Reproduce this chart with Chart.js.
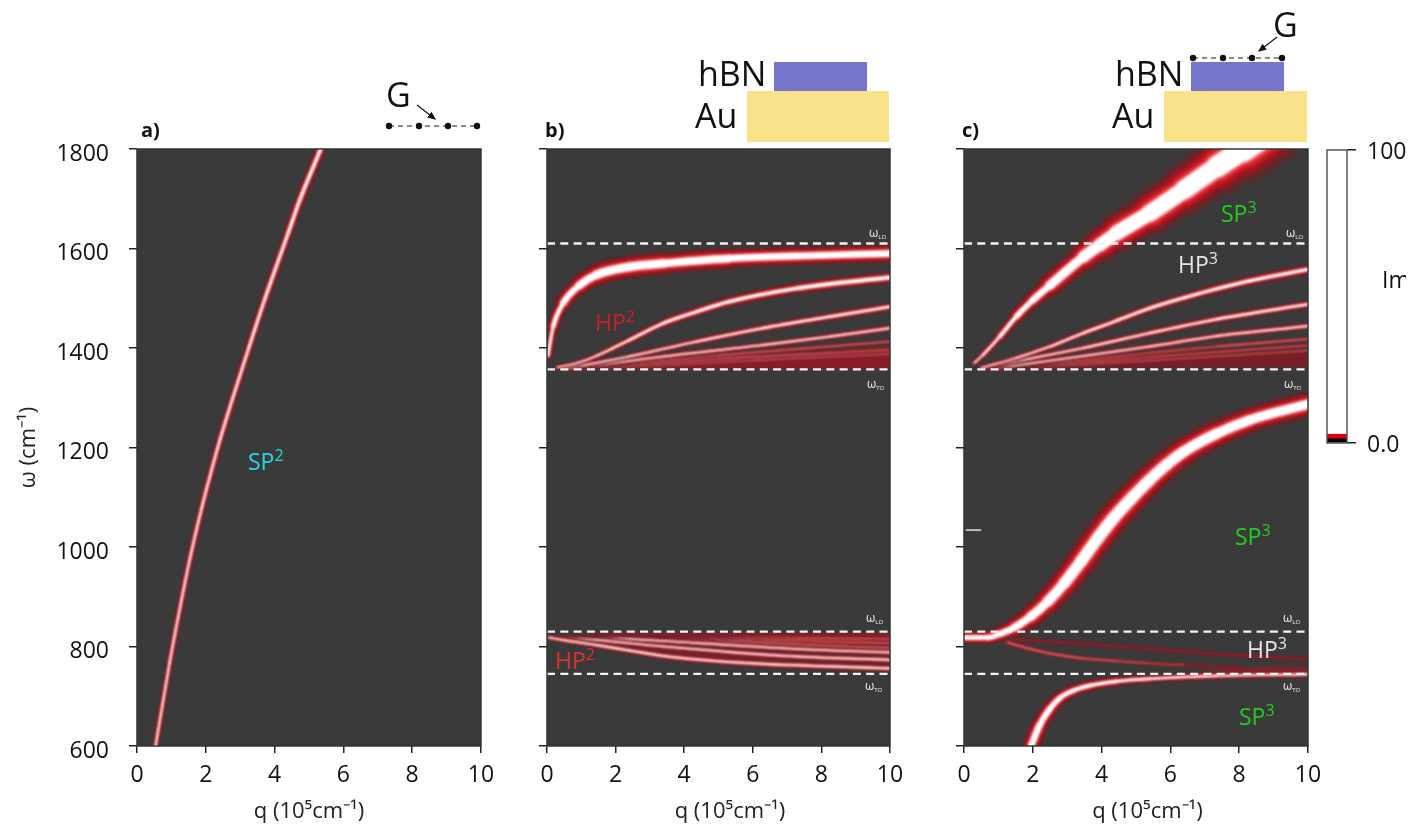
<!DOCTYPE html>
<html>
<head>
<meta charset="utf-8">
<title>Plasmon dispersion</title>
<script src="https://cdn.jsdelivr.net/npm/chart.js@4/dist/chart.umd.js"></script>
<style>
  html, body { margin: 0; padding: 0; background: #fff; }
  body { width: 1424px; height: 827px; position: relative; overflow: hidden; font-family: "Open Sans", sans-serif; }
  canvas { position: absolute; top: 129px; }
  #art { position: absolute; left: 0; top: 0; }
  text { font-family: "Open Sans", sans-serif; }
  #imLabel { position: absolute; left: 1382px; top: 263px; width: 24px; height: 34px; overflow: hidden; font-size: 23px; color: #111; white-space: nowrap; }
</style>
</head>
<body>
<canvas id="panelA" width="511" height="698" style="left:0"></canvas>
<canvas id="panelB" width="415" height="698" style="left:505px"></canvas>
<canvas id="panelC" width="413" height="698" style="left:925px"></canvas>
<canvas id="scaleBar" width="134" height="340" style="left:1290px"></canvas>

<svg id="art" width="1424" height="827" xmlns="http://www.w3.org/2000/svg">
  <defs>
    <marker id="head" markerWidth="7" markerHeight="7" refX="6" refY="3" orient="auto">
      <path d="M0,0 L7,3 L0,6 Z" fill="#111"/>
    </marker>
  </defs>
  <!-- stack drawings -->
  <rect x="774" y="62" width="93" height="29" fill="#7575cb"/>
  <rect x="747" y="91" width="142" height="51" fill="#fae28b"/>
  <rect x="1191" y="62" width="93" height="29" fill="#7575cb"/>
  <rect x="1164" y="91" width="143" height="51" fill="#fae28b"/>
  <text x="698" y="86" font-size="34" fill="#111">hBN</text>
  <text x="695" y="128" font-size="34" fill="#111">Au</text>
  <text x="1115" y="86" font-size="34" fill="#111">hBN</text>
  <text x="1112" y="128" font-size="34" fill="#111">Au</text>
  <text x="386" y="107" font-size="34" fill="#111">G</text>
  <text x="1273" y="37" font-size="34" fill="#111">G</text>
  <line x1="389" y1="126" x2="477" y2="126" stroke="#666" stroke-width="1.3" stroke-dasharray="5 4"/>
  <line x1="1193" y1="58" x2="1282" y2="58" stroke="#666" stroke-width="1.3" stroke-dasharray="5 4"/>
  <g fill="#111">
    <circle cx="389" cy="126" r="3.2"/><circle cx="419" cy="126" r="3.2"/><circle cx="448" cy="126" r="3.2"/><circle cx="477" cy="126" r="3.2"/>
    <circle cx="1193" cy="58" r="3.2"/><circle cx="1223" cy="58" r="3.2"/><circle cx="1252" cy="58" r="3.2"/><circle cx="1282" cy="58" r="3.2"/>
  </g>
  <line x1="417" y1="105" x2="435" y2="119" stroke="#111" stroke-width="1.2" marker-end="url(#head)"/>
  <line x1="1277" y1="37" x2="1259" y2="51" stroke="#111" stroke-width="1.2" marker-end="url(#head)"/>

  <!-- panel letters -->
  <text x="141" y="137" font-size="20" font-weight="700" fill="#111">a)</text>
  <text x="545" y="137" font-size="20" font-weight="700" fill="#111">b)</text>
  <text x="962" y="137" font-size="20" font-weight="700" fill="#111">c)</text>

  <!-- branch names -->
  <text x="248" y="470" font-size="23" fill="#25d9e0">SP<tspan dy="-9" font-size="16">2</tspan></text>
  <text x="595" y="331" font-size="23" fill="#c9202c">HP<tspan dy="-9" font-size="16">2</tspan></text>
  <text x="555" y="669" font-size="23" fill="#e0302f">HP<tspan dy="-9" font-size="16">2</tspan></text>
  <text x="1221" y="222" font-size="23" fill="#22cc22">SP<tspan dy="-9" font-size="16">3</tspan></text>
  <text x="1178" y="273" font-size="23" fill="#e6e6e6">HP<tspan dy="-9" font-size="16">3</tspan></text>
  <text x="1235" y="545" font-size="23" fill="#22cc22">SP<tspan dy="-9" font-size="16">3</tspan></text>
  <text x="1247" y="658" font-size="23" fill="#e6e6e6">HP<tspan dy="-9" font-size="16">3</tspan></text>
  <text x="1239" y="725" font-size="23" fill="#22cc22">SP<tspan dy="-9" font-size="16">3</tspan></text>

  <!-- phonon labels -->
  <g fill="#f2f2f2" font-size="12">
    <text x="869" y="237">ω<tspan dy="2" font-size="6">LO</tspan></text>
    <text x="867" y="388">ω<tspan dy="2" font-size="6">TO</tspan></text>
    <text x="866" y="622">ω<tspan dy="2" font-size="6">LO</tspan></text>
    <text x="865" y="690">ω<tspan dy="2" font-size="6">TO</tspan></text>
    <text x="1286" y="237">ω<tspan dy="2" font-size="6">LO</tspan></text>
    <text x="1284" y="388">ω<tspan dy="2" font-size="6">TO</tspan></text>
    <text x="1283" y="622">ω<tspan dy="2" font-size="6">LO</tspan></text>
    <text x="1283" y="690">ω<tspan dy="2" font-size="6">TO</tspan></text>
  </g>
</svg>
<div id="imLabel">Im</div>

<script>
/******** values */
const xTicksStep = 2;
const yTicksStep = 200;
const barTicks = [0, 100];
const barLevels = [1.4, 1.6, 97];

// phonon lines (omega LO / TO of both bands)
const phononLines = [1610, 1357, 830, 745];

// panel a
const a1q = [0.54, 0.95, 1.25, 1.54, 1.88, 2.17, 2.41, 3.25, 3.71, 4.39, 4.73, 5.31, 5.45];
const a1w = [600, 768, 878, 977, 1078, 1155, 1215, 1400, 1497, 1630, 1697, 1795, 1820];

// panel b, upper band
const b1q = [0.03, 0.18, 0.47, 0.95, 1.44, 2.4, 3.4, 5.3, 7.3, 10];
const b1w = [1385, 1443, 1490, 1526, 1547, 1563, 1570, 1580, 1585, 1590];
const b2q = [0.3, 0.9, 1.44, 1.9, 2.4, 3.4, 4.36, 5.3, 7.3, 10];
const b2w = [1361, 1370, 1384, 1399, 1416, 1450, 1473, 1493, 1520, 1542];
const b3q = [0.5, 2.4, 4.36, 6.3, 8.25, 10];
const b3w = [1358, 1383, 1413, 1440, 1463, 1483];
const b4q = [0.7, 3.4, 6.3, 8.25, 10];
const b4w = [1358, 1383, 1406, 1423, 1440];
const b5q = [1, 5, 10];
const b5w = [1360, 1385, 1413];
const b6q = [1.5, 5, 10];
const b6w = [1360, 1378, 1396];
const b7q = [2, 6, 10];
const b7w = [1360, 1375, 1388];
const bHazeQ = [0.5, 5, 10];
const bHazeTop = [1358, 1382, 1404];
const bHazeLow = [1357, 1358, 1358];

// panel b, lower band
const b8q = [0.05, 0.47, 1.44, 2.4, 3.4, 4.36, 6.3, 8.25, 10];
const b8w = [818, 813, 803, 792, 781, 774, 765, 760, 756];
const b9q = [0.3, 1.44, 3.4, 5.3, 7.3, 10];
const b9w = [818, 813, 800, 789, 780, 773];
const b10q = [0.5, 2.4, 4.36, 7.3, 10];
const b10w = [818, 815, 807, 795, 788];
const b11q = [1, 3, 5, 8, 10];
const b11w = [818, 816, 811, 802, 797];
const b12q = [2, 5, 8, 10];
const b12w = [818, 815, 810, 807];
const b13q = [3, 7, 10];
const b13w = [818, 817, 815];
const bBandQ = [0.05, 1.44, 3.4, 6.3, 10];
const bBandTop = [820, 826, 827, 827, 827];
const bBandLow = [818, 802, 779, 762, 752];

// panel c, upper band
const c1q = [0.3, 0.55, 1.04, 1.52, 2, 2.5, 3.47, 3.95, 4.44, 5.4, 6.4, 7.35, 8.1, 9];
const c1w = [1370, 1386, 1423, 1463, 1496, 1526, 1583, 1607, 1631, 1671, 1718, 1764, 1798, 1840];
const c2q = [0.5, 1.52, 2.5, 3.47, 4.44, 5.4, 6.4, 7.35, 8.3, 10];
const c2w = [1360, 1380, 1403, 1430, 1455, 1480, 1501, 1519, 1535, 1558];
const c3q = [0.7, 1.52, 3.47, 5.4, 7.35, 10];
const c3w = [1360, 1373, 1400, 1430, 1458, 1488];
const c4q = [1, 3.47, 5.4, 7.35, 10];
const c4w = [1360, 1384, 1403, 1424, 1444];
const c5q = [1.3, 5.4, 7.35, 10];
const c5w = [1360, 1390, 1403, 1418];
const c6q = [1.6, 5.4, 10];
const c6w = [1360, 1382, 1405];
const c7q = [2, 10];
const c7w = [1360, 1395];
const cHazeQ = [1, 5, 10];
const cHazeTop = [1360, 1378, 1396];
const cHazeLow = [1358, 1360, 1362];

// panel c, lower band
const c8q = [0.03, 0.68, 1.07, 1.46, 1.94, 2.43, 2.91, 3.4, 3.88, 4.37, 4.9, 5.4, 5.9, 6.4, 7.35, 8.3, 10];
const c8w = [818, 818, 826, 838, 860, 890, 927, 971, 1017, 1060, 1100, 1135, 1166, 1192, 1228, 1255, 1287];
const c9q = [1.95, 2.2, 2.5, 2.8, 3.2, 3.7, 4.44, 5.4, 7.35, 10];
const c9w = [600, 642, 675, 697, 712, 722, 730, 735, 741, 744];
const c10q = [0.5, 1.07, 1.52, 1.94, 2.5, 3.47, 4.44, 5.4, 6.4];
const c10w = [818, 812, 803, 795, 786, 776, 771, 766, 763];
const c10tailQ = [5.2, 6.4, 7.15, 8];
const c10tailW = [767, 763, 761, 759];
const c11q = [0.5, 2.5, 4.44, 6.4, 7.8, 10];
const c11w = [818, 810, 800, 790, 783, 774];
const cBandQ = [6.5, 8, 10];
const cBandTop = [748, 757, 760];
const cBandLow = [745, 745, 745];
const stubQ = [0.05, 0.5];
const stubW = [1034, 1034];

/******** look of the curves */
const glow = [
  { k: 3.1, a: 5.5, color: "#4a3233" },
  { k: 2.7, a: 4.4, color: "#62262a" },
  { k: 2.35, a: 3.4, color: "#861b22" },
  { k: 2, a: 2.8, color: "#ac151e" },
  { k: 1.7, a: 2.2, color: "#cf1a24" },
  { k: 1.4, a: 1.6, color: "#e6404a" },
  { k: 1.15, a: 1.2, color: "#fab0b2" },
  { k: 1, a: 1, color: "#ffffff" },
];
const dimGlow = [
  { k: 2.4, a: 2.6, color: "#5c2629" },
  { k: 1.8, a: 1.6, color: "#861a22" },
  { k: 1.4, a: 1, color: "#b31c27" },
  { k: 1, a: 0.5, color: "#e8747a" },
];
const faintGlow = [
  { k: 2.4, a: 3, color: "#512a2c" },
  { k: 1.6, a: 1.6, color: "#701e24" },
  { k: 1, a: 0.8, color: "#96222b" },
];

function pts(qs, ws) {
  return qs.map((q, i) => ({ x: q, y: ws[i] }));
}

// one curve becomes a stack of lines, wide dark ones under narrow bright ones
function curve(out, qs, ws, core, layers) {
  layers.forEach((l) => {
    const w = (i) => core[Math.min(i, core.length - 1)] * l.k + l.a;
    out.push({
      data: pts(qs, ws),
      borderColor: l.color,
      borderWidth: w(0),
      borderCapStyle: "round",
      cubicInterpolationMode: "monotone",
      pointRadius: 0,
      segment: { borderWidth: (ctx) => (w(ctx.p0DataIndex) + w(ctx.p1DataIndex)) / 2 },
    });
  });
}

// the list is reversed later on, so the top edge ends up right before the low edge
function haze(out, qs, low, top, color) {
  out.push({ data: pts(qs, low), borderWidth: 0, pointRadius: 0, borderColor: "transparent", cubicInterpolationMode: "monotone" });
  out.push({ data: pts(qs, top), borderWidth: 0, pointRadius: 0, borderColor: "transparent", cubicInterpolationMode: "monotone", fill: "+1", backgroundColor: color });
}

function dashed(out, value, end) {
  out.push({
    data: [{ x: 0, y: value }, { x: end, y: value }],
    borderColor: "#f4f4f4",
    borderWidth: 2.4,
    borderDash: [8, 5.3],
    pointRadius: 0,
    crisp: true,
  });
}

const aSets = [];
curve(aSets, a1q, a1w, [0.7, 0.8, 0.8, 0.9, 1, 1.1, 1.1, 1.3, 1.5, 1.7, 1.9, 2.1, 2.1], glow);

const bSets = [];
haze(bSets, bHazeQ, bHazeLow, bHazeTop, "#8a1c26");
haze(bSets, bBandQ, bBandLow, bBandTop, "#8a1c26");
curve(bSets, b7q, b7w, [0.3, 0.4, 0.5], dimGlow);
curve(bSets, b6q, b6w, [0.3, 0.5, 0.7], dimGlow);
curve(bSets, b5q, b5w, [0.3, 0.6, 0.9], dimGlow);
curve(bSets, b4q, b4w, [0.1, 0.3, 0.5, 0.6, 0.7], glow);
curve(bSets, b3q, b3w, [0.1, 0.3, 0.7, 1, 1.2, 1.4], glow);
curve(bSets, b2q, b2w, [0.1, 0.3, 0.5, 0.8, 1, 1.5, 1.8, 2, 2.3, 2.6], glow);
curve(bSets, b1q, b1w, [1, 2, 3.6, 5.4, 6.4, 7, 6.5, 5.5, 5, 5], glow);
curve(bSets, b13q, b13w, [0.4, 0.6, 0.7], dimGlow);
curve(bSets, b12q, b12w, [0.4, 0.6, 0.7, 0.8], dimGlow);
curve(bSets, b11q, b11w, [0.4, 0.6, 0.8, 0.9, 1], dimGlow);
curve(bSets, b10q, b10w, [0.1, 0.2, 0.3, 0.4, 0.5], glow);
curve(bSets, b9q, b9w, [0.1, 0.2, 0.4, 0.5, 0.6, 0.7], glow);
curve(bSets, b8q, b8w, [0.3, 0.4, 0.7, 0.8, 0.8, 0.8, 0.8, 0.8, 0.8], glow);
phononLines.forEach((v) => dashed(bSets, v, 9.95));

const cSets = [];
haze(cSets, cHazeQ, cHazeLow, cHazeTop, "#7a1e28");
haze(cSets, cBandQ, cBandLow, cBandTop, "#8a2029");
curve(cSets, c7q, c7w, [0.3, 0.5], dimGlow);
curve(cSets, c6q, c6w, [0.3, 0.5, 0.7], dimGlow);
curve(cSets, c5q, c5w, [0.3, 0.6, 0.7, 0.9], dimGlow);
curve(cSets, c4q, c4w, [0.1, 0.3, 0.5, 0.6, 0.7], glow);
curve(cSets, c3q, c3w, [0.1, 0.3, 0.6, 0.9, 1.1, 1.3], glow);
curve(cSets, c2q, c2w, [0.1, 0.3, 0.7, 1, 1.3, 1.5, 1.6, 1.7, 1.8, 2], glow);
curve(cSets, c1q, c1w, [0.2, 0.6, 1.6, 3, 4.2, 5.6, 8.6, 10, 11.5, 13.5, 15.5, 17.5, 20, 23], glow);
curve(cSets, c11q, c11w, [1, 0.8, 0.8, 0.8, 0.8, 1], faintGlow);
curve(cSets, c10tailQ, c10tailW, [0.8, 0.6, 0.4, 0.2], faintGlow);
curve(cSets, c10q, c10w, [0.5, 1.2, 1.2, 1.1, 1, 0.8, 0.6, 0.4, 0.1], dimGlow);
curve(cSets, c9q, c9w, [5, 4.6, 4, 3.4, 2.8, 2.2, 1.8, 1.2, 0.8, 0.5], glow);
curve(cSets, c8q, c8w, [3, 3.4, 4, 5, 6.4, 7.6, 8.8, 9.6, 10, 10, 9.8, 9.4, 9, 8.8, 8.2, 7.8, 7.2], glow);
phononLines.forEach((v) => dashed(cSets, v, 9.9));
cSets.push({ data: pts(stubQ, stubW), borderColor: "#bdbdbd", borderWidth: 2, pointRadius: 0, crisp: true });

/******** charts */
// blur what is in the plot so far, the picture is a soft image under crisp dashes
function soften(chart) {
  if (chart.$softened) return;
  chart.$softened = true;
  const a = chart.chartArea;
  const ctx = chart.ctx;
  ctx.save();
  ctx.beginPath();
  ctx.rect(a.left, a.top, a.right - a.left, a.bottom - a.top);
  ctx.clip();
  ctx.filter = "blur(0.9px)";
  ctx.drawImage(ctx.canvas, 0, 0);
  ctx.restore();
}

const plotFrame = {
  id: "plotFrame",
  beforeDatasetsDraw(chart) {
    const a = chart.chartArea;
    chart.$softened = false;
    chart.ctx.save();
    chart.ctx.fillStyle = "#3b3a3a";
    chart.ctx.fillRect(a.left, a.top, a.right - a.left, a.bottom - a.top);
    chart.ctx.restore();
  },
  beforeDatasetDraw(chart, args) {
    if (chart.data.datasets[args.index].crisp) soften(chart);
  },
  afterDatasetsDraw(chart) {
    const a = chart.chartArea;
    soften(chart);
    chart.ctx.save();
    chart.ctx.strokeStyle = "#2c3a30";
    chart.ctx.lineWidth = 1.5;
    chart.ctx.strokeRect(a.left, a.top, a.right - a.left, a.bottom - a.top);
    chart.ctx.restore();
  },
};

function panel(id, sets, leftWidth, showY, xPad) {
  return new Chart(document.getElementById(id), {
    type: "line",
    // the library paints the last dataset first
    data: { datasets: sets.reverse() },
    plugins: [plotFrame],
    options: {
      responsive: false,
      animation: false,
      layout: { padding: { top: 20, right: 30, left: 0, bottom: 0 } },
      plugins: { legend: { display: false }, tooltip: { enabled: false } },
      scales: {
        x: {
          type: "linear",
          min: 0,
          max: 10,
          afterFit: (s) => { s.height = 81; s.paddingLeft = 0; s.paddingRight = 0; },
          ticks: { stepSize: xTicksStep, color: "#111", font: { family: "Open Sans", size: 23 }, padding: 9, maxRotation: 0 },
          grid: { drawOnChartArea: false, tickLength: 7, color: "#222", lineWidth: 1.5 },
          border: { display: false },
          title: { display: true, text: xPad + "q (10⁵cm⁻¹)", color: "#222", font: { family: "Open Sans", size: 22 }, padding: { top: 0, bottom: 2 } },
        },
        y: {
          type: "linear",
          min: 600,
          max: 1800,
          afterFit: (s) => { s.width = leftWidth; s.paddingTop = 0; s.paddingBottom = 0; },
          ticks: { display: showY, stepSize: yTicksStep, color: "#111", font: { family: "Open Sans", size: 23 }, padding: 20, labelOffset: 5, callback: (v) => String(v) },
          grid: { drawOnChartArea: false, tickLength: 8, color: "#222", lineWidth: 1.5 },
          border: { display: false },
          title: { display: showY, text: "ω (cm⁻¹)", color: "#222", font: { family: "Open Sans", size: 22 }, padding: { top: 16, bottom: 0 } },
        },
      },
    },
  });
}

panel("panelA", aSets, 137, true, "");
panel("panelB", bSets, 42, false, "\u00a0\u00a0\u00a0\u00a0");
panel("panelC", cSets, 39, false, "\u00a0\u00a0\u00a0\u00a0");

const barFrame = {
  id: "barFrame",
  afterDatasetsDraw(chart) {
    const a = chart.chartArea;
    chart.ctx.save();
    chart.ctx.strokeStyle = "#555";
    chart.ctx.lineWidth = 1.5;
    chart.ctx.strokeRect(a.left, a.top, a.right - a.left, a.bottom - a.top);
    chart.ctx.restore();
  },
};

new Chart(document.getElementById("scaleBar"), {
  type: "bar",
  data: {
    labels: [""],
    datasets: [
      { data: [barLevels[0]], backgroundColor: "#000" },
      { data: [barLevels[1]], backgroundColor: "#d40012" },
      { data: [barLevels[2]], backgroundColor: "#fff" },
    ],
  },
  plugins: [barFrame],
  options: {
    responsive: false,
    animation: false,
    layout: { padding: { top: 21, bottom: 26, left: 37, right: 0 } },
    plugins: { legend: { display: false }, tooltip: { enabled: false } },
    datasets: { bar: { barPercentage: 1, categoryPercentage: 1 } },
    scales: {
      x: { stacked: true, display: false },
      y: {
        stacked: true,
        position: "right",
        min: 0,
        max: 100,
        afterFit: (s) => { s.width = 77; s.paddingTop = 0; s.paddingBottom = 0; },
        afterBuildTicks: (s) => { s.ticks = barTicks.map((v) => ({ value: v })); },
        ticks: { color: "#111", font: { family: "Open Sans", size: 23 }, padding: 11, labelOffset: 2, callback: (v) => (v === 0 ? "0.0" : "100") },
        grid: { drawOnChartArea: false, tickLength: 9, color: "#222", lineWidth: 1.5 },
        border: { display: false },
      },
    },
  },
});
</script>
</body>
</html>
